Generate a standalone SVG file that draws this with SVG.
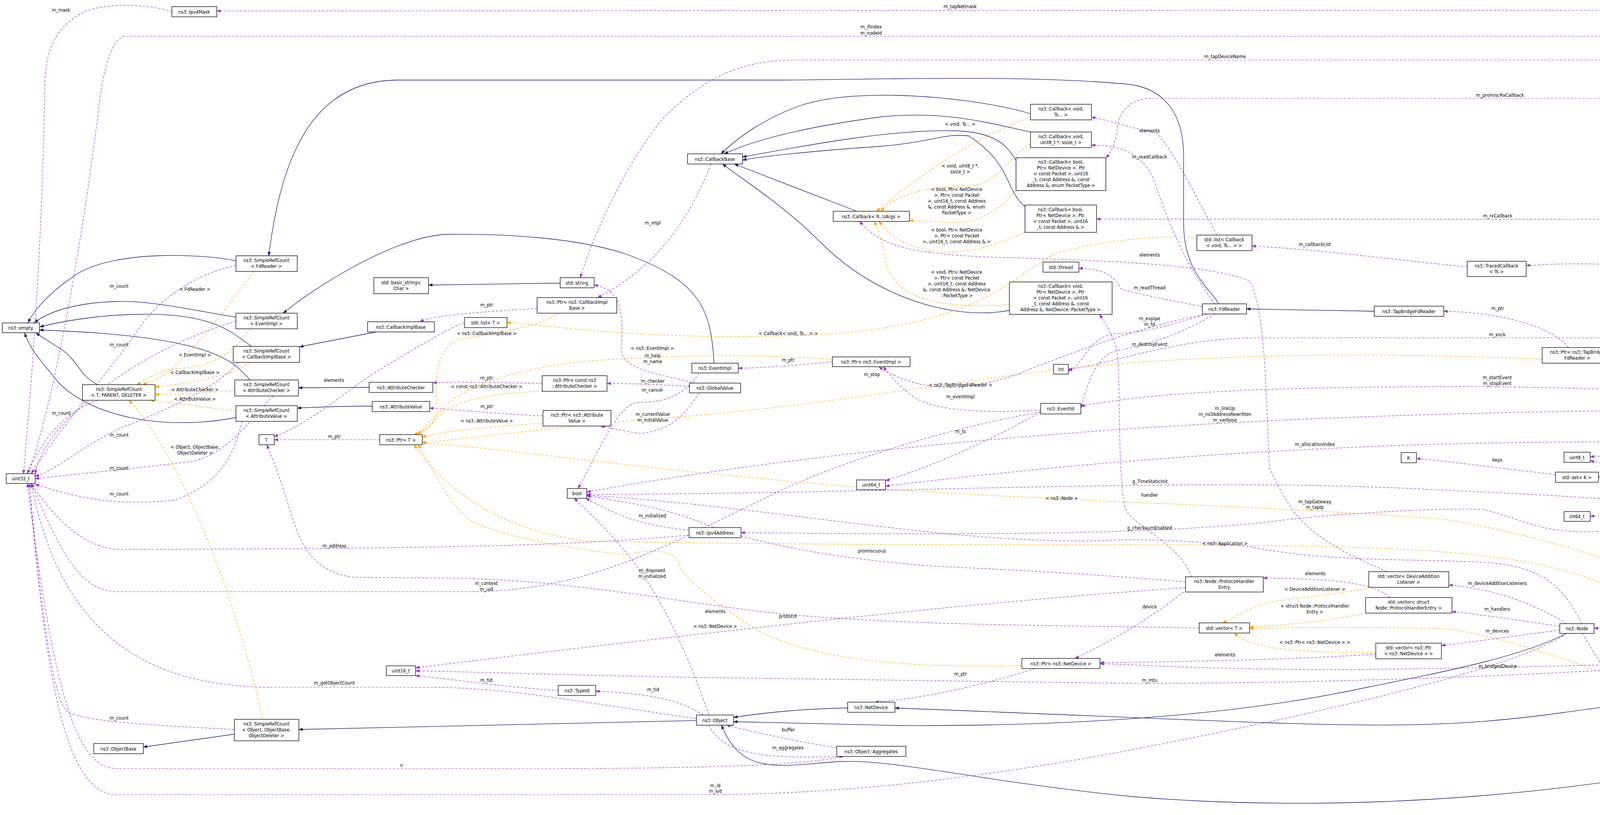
<svg xmlns="http://www.w3.org/2000/svg" width="5408" height="2087" viewBox="0 0 5408 2087">
<style>
.n rect{fill:#fff;stroke:#000;stroke-width:1.3}
.n text,.l{font-family:"DejaVu Sans Condensed","DejaVu Sans",sans-serif;font-size:12.5px;fill:#000;text-anchor:middle}
.i{fill:none;stroke:#191970;stroke-width:1.3;marker-end:url(#ai)}
.e{fill:none;stroke:#9a32cd;stroke-width:1.2;stroke-dasharray:6,4;marker-end:url(#ae)}
.o{fill:none;stroke:#ffa500;stroke-width:1.2;stroke-dasharray:6,4;marker-end:url(#ao)}
</style>
<defs>
<marker id="ai" markerWidth="11" markerHeight="8" refX="10" refY="4" orient="auto" markerUnits="userSpaceOnUse"><path d="M0,0 L11,4 L0,8 z" fill="#191970"/></marker>
<marker id="ae" markerWidth="11" markerHeight="8" refX="10" refY="4" orient="auto" markerUnits="userSpaceOnUse"><path d="M0,0 L11,4 L0,8 z" fill="#9a32cd"/></marker>
<marker id="ao" markerWidth="11" markerHeight="8" refX="10" refY="4" orient="auto" markerUnits="userSpaceOnUse"><path d="M0,0 L11,4 L0,8 z" fill="#ffa500"/></marker>
</defs>
<rect width="5408" height="2087" fill="#fff"/>
<g id="connectors">
<path class="i" d="M604,668 C520,650 300,640 200,700 C130,745 90,790 72,826"/>
<path class="i" d="M604,812 C520,800 400,770 300,772 C200,775 130,795 88,826"/>
<path class="i" d="M645,887 C600,860 560,800 350,805 C230,808 150,825 102,837"/>
<path class="i" d="M640,973 C600,930 560,860 101,845"/>
<path class="i" d="M604,1069 C450,1100 250,1080 150,980 C110,930 80,900 63,853"/>
<path class="i" d="M250,985 C200,960 200,920 150,890 L92,853"/>
<path class="i" d="M3120,778 C3100,740 3030,700 3030,570 L3030,400 C3030,260 2950,220 2880,215 C2600,190 2200,205 2000,205 L1020,205 C800,205 720,400 688,655"/>
<path class="i" d="M1828,930 C1820,800 1800,720 1600,650 C1480,610 1300,598 1140,600 C1000,610 800,740 725,802"/>
<path class="i" d="M963,850 L767,888"/>
<path class="i" d="M945,992 L764,993"/>
<path class="i" d="M953,1040 C880,1040 820,1042 761,1045"/>
<path class="i" d="M1434,725 L1097,730"/>
<path class="i" d="M2638,291 C2500,250 2200,220 2050,270 C1950,305 1880,360 1846,394"/>
<path class="i" d="M2638,338 C2550,320 2420,280 2250,300 C2100,320 1950,350 1854,394"/>
<path class="i" d="M2601,410 C2580,380 2560,340 2450,335 C2300,330 2100,365 1901,402"/>
<path class="i" d="M2624,530 C2570,480 2590,420 2480,348 C2420,340 2380,365 2250,375 C2100,385 1950,400 1901,410"/>
<path class="i" d="M2193,541 L1880,420"/>
<path class="i" d="M2584,795 C2450,820 2250,770 2100,620 C2000,520 1900,460 1850,420"/>
<path class="i" d="M3518,797 L3191,791"/>
<path class="i" d="M600,1880 L367,1913"/>
<path class="i" d="M1783,1845 L765,1868"/>
<path class="i" d="M2170,1813 C2050,1815 1950,1826 1878,1837"/>
<path class="i" d="M4749,1053 C4740,1300 4730,1600 4665,1705 C4580,1750 4400,1770 4000,1825 C3600,1880 3400,1855 2291,1813"/>
<path class="i" d="M4010,1622 C3900,1680 3700,1720 3500,1760 C3200,1825 2800,1860 2300,1858 L1878,1848"/>
<path class="i" d="M4740,1757 C4680,1830 4600,1900 4400,1950 C4100,2020 3500,2090 2900,2040 C2500,2000 2300,1945 2150,1950 C2000,1960 1900,1990 1847,1857"/>

<path class="e" d="M4752,1028 C4750,700 4720,120 4700,80 C4670,30 4620,20 4560,26 L555,28"/>
<path class="e" d="M440,30 C400,15 300,5 230,25 C150,55 120,120 115,200 C110,600 80,1000 60,1213"/>
<path class="e" d="M4755,1028 C4745,600 4710,250 4660,160 C4620,100 4580,93 4460,93 L320,93 C280,100 260,200 250,300 C200,700 120,1100 70,1213"/>
<path class="e" d="M4758,1028 C4740,600 4700,300 4650,200 C4610,160 4570,154 4450,154 L2030,154 C1900,154 1800,200 1700,300 C1600,420 1520,600 1485,711"/>
<path class="e" d="M4760,1028 C4740,700 4700,400 4620,290 C4590,260 4560,252 4450,252 L2950,252 C2880,252 2860,300 2860,340 C2850,380 2840,395 2831,404"/>
<path class="e" d="M4762,1028 C4740,800 4680,650 4600,590 C4570,570 4540,562 4450,562 L2807,561"/>
<path class="e" d="M4764,1028 C4700,900 4600,800 4400,720 C4250,680 4100,668 3907,680"/>
<path class="e" d="M4740,1028 C4720,950 4650,900 4500,888 C4350,875 4200,880 4128,896"/>
<path class="e" d="M4735,1028 C4700,950 4600,870 4450,865 L3200,865 C3000,870 2850,930 2735,946"/>
<path class="e" d="M4720,1028 C4500,1010 4200,995 3800,990 C3400,990 3000,995 2767,1040"/>
<path class="e" d="M4698,1045 C4300,1050 3800,1050 3200,1080 C2600,1110 2000,1170 1502,1260"/>
<path class="e" d="M4720,1053 C4680,1090 4600,1110 4521,1128"/>
<path class="e" d="M4374,1142 L4071,1170"/>
<path class="e" d="M4735,1053 C4680,1150 4600,1195 4450,1205 C4300,1210 4150,1200 4071,1180"/>
<path class="e" d="M4745,1053 C4720,1200 4650,1250 4477,1255"/>
<path class="e" d="M4748,1053 C4720,1250 4650,1320 4491,1315"/>
<path class="e" d="M4404,1305 C4320,1290 4330,1240 4280,1232 C4200,1225 4150,1222 4092,1222"/>
<path class="e" d="M4404,1308 L4071,1322"/>
<path class="e" d="M4404,1300 C4200,1280 4000,1270 3700,1255 C3300,1235 3000,1240 2500,1250 C2000,1262 1700,1266 1502,1266"/>
<path class="e" d="M3982,1215 C3800,1195 3700,1180 3626,1174"/>
<path class="e" d="M4750,1053 C4700,1250 4600,1390 4450,1395 C4300,1395 4200,1350 4100,1360 C3950,1370 3900,1330 3800,1305 C3700,1300 3500,1310 3300,1330 C3000,1370 2500,1370 1897,1364"/>
<path class="e" d="M1764,1370 C1500,1395 1200,1405 300,1407 C200,1400 120,1300 80,1238"/>
<path class="e" d="M1764,1358 C1650,1345 1600,1330 1500,1276"/>
<path class="e" d="M4755,1053 C4740,1300 4720,1560 4600,1625 C4560,1640 4520,1620 4490,1615"/>
<path class="e" d="M4720,1731 C4650,1700 4550,1640 4480,1615"/>
<path class="e" d="M4364,1605 L4081,1609"/>
<path class="e" d="M4730,1731 C4650,1500 4550,1400 4460,1319"/>
<path class="e" d="M4950,1782 C4900,1770 4860,1765 4821,1757"/>
<path class="e" d="M5231,1836 C5180,1820 5130,1810 5085,1807"/>
<path class="e" d="M4050,1622 C4100,1700 4130,1770 4200,1770 C4400,1780 4600,1830 5231,1851"/>
<path class="e" d="M4010,1597 C3950,1560 3850,1510 3709,1498"/>
<path class="e" d="M3993,1604 C3900,1590 3800,1575 3717,1566"/>
<path class="e" d="M3993,1614 C3900,1625 3800,1640 3690,1653"/>
<path class="e" d="M3522,1675 C3300,1690 3000,1695 2816,1697"/>
<path class="e" d="M3557,1530 C3530,1500 3450,1482 3234,1480"/>
<path class="e" d="M3030,1516 C2950,1580 2850,1640 2752,1686"/>
<path class="e" d="M3050,1477 C3020,1390 2900,1350 2880,1300 C2860,1200 2870,1000 2860,900 C2850,860 2830,830 2815,805"/>
<path class="e" d="M3035,1490 C2800,1470 2600,1460 2400,1450 C2100,1430 1900,1380 1800,1340 C1700,1300 1600,1285 1502,1270"/>
<path class="e" d="M3035,1505 C2500,1540 1800,1620 1064,1710"/>
<path class="e" d="M4010,1622 C3900,1700 3500,1800 3000,1900 C2600,1980 2200,2035 1800,2035 L300,2035 C180,2035 120,1800 75,1238"/>
<path class="e" d="M4745,1053 C4730,1300 4700,1600 4620,1660 C4500,1700 3900,1710 3400,1715 C3000,1712 2900,1700 2816,1700"/>
<path class="e" d="M4742,1053 C4720,1400 4650,1650 4500,1690 C4000,1730 3400,1750 2900,1750 L1800,1735 C1500,1730 1200,1720 1064,1718"/>
<path class="e" d="M2650,1712 C2500,1760 2350,1790 2240,1798"/>
<path class="e" d="M1800,1831 C1740,1790 1650,1775 1525,1770"/>
<path class="e" d="M1429,1768 C1300,1760 1200,1745 1064,1730"/>
<path class="e" d="M1815,1831 C1700,1500 1600,1400 1470,1276"/>
<path class="e" d="M2142,1915 C2050,1900 1950,1880 1860,1857"/>
<path class="e" d="M1815,1857 C1850,1930 1950,1945 2160,1937"/>
<path class="e" d="M1783,1840 C1500,1800 1300,1760 1100,1760 L700,1760 C350,1760 150,1600 80,1238"/>
<path class="e" d="M2160,1937 C2050,1960 1800,1968 1400,1968 L300,1968 C200,1968 140,1800 70,1238"/>
<path class="e" d="M600,1868 C450,1860 200,1850 170,1820 C130,1780 100,1500 75,1238"/>
<path class="e" d="M2664,1055 C2550,1120 2400,1190 2267,1231"/>
<path class="e" d="M2664,1050 C2500,1060 2380,1050 2330,1010 C2300,985 2275,960 2262,939"/>
<path class="e" d="M2664,1055 C2400,1100 2100,1200 1950,1280 C1700,1400 1500,1515 1200,1515 L300,1515 C200,1515 150,1400 80,1238"/>
<path class="e" d="M2131,926 C2050,935 1950,942 1890,943"/>
<path class="e" d="M1790,955 C1760,1000 1720,1030 1640,1030 C1590,1030 1560,1100 1480,1251"/>
<path class="e" d="M3090,804 C2950,830 2800,880 2600,960 C2450,1010 2350,1000 2250,940"/>
<path class="e" d="M3078,785 C3000,770 2900,750 2870,740 C2850,700 2820,690 2762,687"/>
<path class="e" d="M3090,804 C3000,830 2950,850 2850,855 C2780,870 2780,930 2735,950"/>
<path class="e" d="M3110,778 C3050,700 3000,600 2950,450 C2920,400 2880,370 2794,372"/>
<path class="e" d="M3110,804 C3000,870 2900,890 2850,900 C2800,920 2780,1000 2767,1045"/>
<path class="e" d="M3115,602 C3050,480 3000,380 2960,340 C2900,330 2850,310 2794,300"/>
<path class="e" d="M3756,683 C3600,670 3400,640 3205,630"/>
<path class="e" d="M4015,890 C3980,840 3850,800 3696,797"/>
<path class="e" d="M1375,790 C1200,800 1100,810 1075,824"/>
<path class="e" d="M1820,420 C1750,600 1650,700 1530,762"/>
<path class="e" d="M1388,982 C1300,980 1200,978 1108,980"/>
<path class="e" d="M1765,990 C1700,985 1620,982 1554,982"/>
<path class="e" d="M1780,981 C1700,960 1600,950 1590,900 C1600,780 1580,740 1521,730"/>
<path class="e" d="M1790,1006 C1760,1050 1730,1100 1640,1110 C1600,1105 1560,1095 1537,1091"/>
<path class="e" d="M1390,1065 C1250,1058 1150,1048 1100,1045"/>
<path class="e" d="M972,1126 L702,1126"/>
<path class="e" d="M1189,826 C1130,850 1050,900 950,960 C850,1030 780,1090 702,1118"/>
<path class="e" d="M3070,1608 C2600,1600 2200,1600 1900,1560 C1600,1520 1400,1480 1100,1480 L900,1478 C800,1460 770,1400 740,1300 C720,1230 700,1180 683,1139"/>
<path class="e" d="M3550,1464 C3500,1440 3450,1420 3420,1400 C3320,1340 3300,1300 3250,1200 C3240,1000 3240,800 3200,720 C3100,680 2900,670 2600,660 C2300,655 2250,620 2200,567"/>
<path class="e" d="M4374,1135 C4200,1130 3900,1130 3600,1140 C3200,1155 2800,1180 2267,1245"/>
<path class="e" d="M4050,1597 C4000,1500 3950,1450 3800,1440 C3600,1430 3400,1440 3200,1400 C3000,1380 2900,1380 2800,1385 C2400,1390 2000,1300 1502,1268"/>
<path class="e" d="M604,680 C500,700 400,770 350,850 C280,950 150,1100 80,1213"/>
<path class="e" d="M604,822 C450,870 300,950 200,1050 C140,1100 100,1160 90,1213"/>
<path class="e" d="M610,928 C550,1000 400,1060 300,1100 C200,1150 150,1200 90,1220"/>
<path class="e" d="M700,1014 C650,1060 600,1150 500,1180 C350,1200 200,1213 90,1226"/>
<path class="e" d="M620,1079 C600,1150 580,1230 450,1280 C300,1300 180,1270 90,1240"/>
<path class="e" d="M250,1025 C180,1050 120,1100 70,1213"/>

<path class="o" d="M650,695 C600,760 500,900 420,960 C400,975 380,980 365,985"/>
<path class="o" d="M640,842 C600,900 550,940 450,944 C400,950 380,970 350,985"/>
<path class="o" d="M640,928 C600,960 500,980 397,991"/>
<path class="o" d="M601,1000 C500,1008 450,1010 397,1010"/>
<path class="o" d="M604,1052 C500,1040 430,1030 385,1025"/>
<path class="o" d="M672,1842 C600,1500 450,1150 330,1025"/>
<path class="o" d="M1430,802 C1400,830 1300,848 1170,870 C1120,900 1110,960 1120,1050 C1110,1090 1090,1105 1060,1113"/>
<path class="o" d="M1400,1002 C1250,1005 1150,1030 1120,1070 C1100,1095 1080,1105 1060,1113"/>
<path class="o" d="M1390,1083 C1250,1095 1150,1100 1081,1119"/>
<path class="o" d="M2131,920 C1900,905 1700,910 1500,925 C1350,940 1200,980 1140,1040 C1100,1080 1080,1100 1070,1113"/>
<path class="o" d="M3948,920 C3500,900 3000,905 2600,960 C2300,1000 2000,1050 1700,1070 C1400,1095 1200,1125 1081,1133"/>
<path class="o" d="M4414,1590 C4300,1500 4100,1400 3700,1330 C3200,1290 2500,1280 2000,1230 C1600,1195 1300,1150 1081,1134"/>
<path class="o" d="M4912,1795 C4600,1760 4400,1700 4200,1550 C4000,1400 3600,1400 3000,1395 C2500,1395 1900,1395 1500,1385 C1300,1360 1150,1270 1060,1139"/>
<path class="o" d="M2616,1705 C2300,1710 2100,1690 1950,1620 C1850,1560 1750,1480 1740,1450 C1740,1420 1700,1400 1600,1420 C1400,1400 1250,1360 1200,1330 C1140,1280 1110,1200 1070,1139"/>
<path class="o" d="M3064,610 C2950,600 2800,620 2700,650 C2600,700 2500,855 2000,860 C1600,870 1400,830 1298,826"/>
<path class="o" d="M2638,300 C2500,350 2350,450 2244,541"/>
<path class="o" d="M2638,370 C2580,400 2560,470 2480,478 C2350,475 2280,510 2255,541"/>
<path class="o" d="M2601,488 C2560,540 2500,570 2450,570 C2380,568 2350,565 2328,565"/>
<path class="o" d="M2624,595 C2560,620 2500,650 2400,645 C2300,630 2270,590 2250,567"/>
<path class="o" d="M2584,780 C2450,790 2300,780 2270,680 C2260,620 2245,580 2238,567"/>
<path class="o" d="M3510,1504 C3400,1530 3250,1530 3200,1560 C3160,1580 3140,1590 3130,1595"/>
<path class="o" d="M3500,1570 C3400,1590 3300,1600 3199,1606"/>
<path class="o" d="M3522,1672 C3300,1670 3200,1660 3160,1621"/>
<path class="o" d="M5247,1872 C5150,1910 5000,1915 4600,1914 C4400,1900 4300,1840 4200,1760 C4000,1680 3800,1620 3700,1610 C3500,1605 3300,1606 3199,1610"/>

<text class="l" x="2458" y="21">m_tapNetmask</text>
<text class="l" x="156" y="30">m_mask</text>
<text class="l" x="2230" y="73">m_ifIndex</text>
<text class="l" x="2230" y="89">m_nodeId</text>
<text class="l" x="3136" y="149">m_tapDeviceName</text>
<text class="l" x="3840" y="248">m_promiscRxCallback</text>
<text class="l" x="3834" y="557">m_rxCallback</text>
<text class="l" x="4234" y="668">m_linkChangeCallbacks</text>
<text class="l" x="4450" y="881">m_fdReader</text>
<text class="l" x="3833" y="861">m_sock</text>
<text class="l" x="3833" y="971">m_startEvent</text>
<text class="l" x="3833" y="986">m_stopEvent</text>
<text class="l" x="3136" y="1050">m_linkUp</text>
<text class="l" x="3136" y="1065">m_ns3AddressRewritten</text>
<text class="l" x="3136" y="1080">m_verbose</text>
<text class="l" x="4625" y="1069">m_address</text>
<text class="l" x="4625" y="1085">m_tapMac</text>
<text class="l" x="4234" y="1146">m_address</text>
<text class="l" x="4450" y="1177">m_packetBuffer</text>
<text class="l" x="4627" y="1222">m_mode</text>
<text class="l" x="4627" y="1262">m_tStart</text>
<text class="l" x="4627" y="1277">m_tStop</text>
<text class="l" x="4236" y="1226">g_markingTimes</text>
<text class="l" x="4235" y="1306">m_data</text>
<text class="l" x="2944" y="1237">g_TimeStaticInit</text>
<text class="l" x="3833" y="1182">keys</text>
<text class="l" x="3366" y="1289">m_tapGateway</text>
<text class="l" x="3366" y="1303">m_tapIp</text>
<text class="l" x="856" y="1402">m_address</text>
<text class="l" x="1670" y="1325">m_initialized</text>
<text class="l" x="4627" y="1598">m_node</text>
<text class="l" x="4627" y="1660">m_node</text>
<text class="l" x="4235" y="1601">m_ptr</text>
<text class="l" x="4626" y="1445">m_startTime</text>
<text class="l" x="4626" y="1460">m_stopTime</text>
<text class="l" x="4869" y="1757">m_ptr</text>
<text class="l" x="5176" y="1814">elements</text>
<text class="l" x="4767" y="1825">m_applications</text>
<text class="l" x="3833" y="1498">m_deviceAdditionListeners</text>
<text class="l" x="3833" y="1564">m_handlers</text>
<text class="l" x="3833" y="1620">m_devices</text>
<text class="l" x="3136" y="1681">elements</text>
<text class="l" x="3367" y="1473">elements</text>
<text class="l" x="2943" y="1558">device</text>
<text class="l" x="2943" y="1272">handler</text>
<text class="l" x="2232" y="1415">promiscuous</text>
<text class="l" x="2017" y="1582">protocol</text>
<text class="l" x="1831" y="2016">m_id</text>
<text class="l" x="1831" y="2030">m_sid</text>
<text class="l" x="3834" y="1710">m_bridgedDevice</text>
<text class="l" x="2943" y="1746">m_mtu</text>
<text class="l" x="2459" y="1730">m_ptr</text>
<text class="l" x="1672" y="1770">m_tid</text>
<text class="l" x="1245" y="1746">m_tid</text>
<text class="l" x="1669" y="1465">m_disposed</text>
<text class="l" x="1669" y="1480">m_initialized</text>
<text class="l" x="2018" y="1873">buffer</text>
<text class="l" x="2017" y="1919">m_aggregates</text>
<text class="l" x="856" y="1753">m_getObjectCount</text>
<text class="l" x="1028" y="1964">n</text>
<text class="l" x="305" y="1843">m_count</text>
<text class="l" x="2459" y="1109">m_ts</text>
<text class="l" x="2459" y="1020">m_eventImpl</text>
<text class="l" x="1245" y="1498">m_context</text>
<text class="l" x="1245" y="1513">m_uid</text>
<text class="l" x="2018" y="926">m_ptr</text>
<text class="l" x="1670" y="1003">m_cancel</text>
<text class="l" x="2232" y="963">m_stop</text>
<text class="l" x="2943" y="741">m_readThread</text>
<text class="l" x="2943" y="820">m_evpipe</text>
<text class="l" x="2943" y="835">m_fd</text>
<text class="l" x="2943" y="406">m_readCallback</text>
<text class="l" x="2943" y="886">m_destroyEvent</text>
<text class="l" x="2943" y="339">elements</text>
<text class="l" x="2943" y="657">elements</text>
<text class="l" x="3366" y="630">m_callbackList</text>
<text class="l" x="3834" y="794">m_ptr</text>
<text class="l" x="1246" y="785">m_ptr</text>
<text class="l" x="1671" y="575">m_impl</text>
<text class="l" x="1246" y="972">m_ptr</text>
<text class="l" x="1671" y="980">m_checker</text>
<text class="l" x="1671" y="915">m_help</text>
<text class="l" x="1671" y="930">m_name</text>
<text class="l" x="1671" y="1065">m_currentValue</text>
<text class="l" x="1671" y="1080">m_initialValue</text>
<text class="l" x="1246" y="1045">m_ptr</text>
<text class="l" x="856" y="1122">m_ptr</text>
<text class="l" x="855" y="978">elements</text>
<text class="l" x="1831" y="1570">elements</text>
<text class="l" x="3366" y="1142">m_allocationIndex</text>
<text class="l" x="2943" y="1356">g_checksumEnabled</text>
<text class="l" x="305" y="737">m_count</text>
<text class="l" x="305" y="887">m_count</text>
<text class="l" x="157" y="1062">m_count</text>
<text class="l" x="305" y="1118">m_count</text>
<text class="l" x="305" y="1203">m_count</text>
<text class="l" x="305" y="1269">m_count</text>
<text class="l" x="499" y="745">&lt; FdReader &gt;</text>
<text class="l" x="499" y="913">&lt; EventImpl &gt;</text>
<text class="l" x="499" y="958">&lt; CallbackImplBase &gt;</text>
<text class="l" x="499" y="1002">&lt; AttributeChecker &gt;</text>
<text class="l" x="499" y="1026">&lt; AttributeValue &gt;</text>
<text class="l" x="499" y="1149">&lt; Object, ObjectBase,</text>
<text class="l" x="499" y="1164">ObjectDeleter &gt;</text>
<text class="l" x="1246" y="858">&lt; ns3::CallbackImplBase &gt;</text>
<text class="l" x="1246" y="994">&lt; const ns3::AttributeChecker &gt;</text>
<text class="l" x="1246" y="1082">&lt; ns3::AttributeValue &gt;</text>
<text class="l" x="1670" y="896">&lt; ns3::EventImpl &gt;</text>
<text class="l" x="2459" y="990">&lt; ns3::TapBridgeFdReader &gt;</text>
<text class="l" x="2718" y="1280">&lt; ns3::Node &gt;</text>
<text class="l" x="3136" y="1396">&lt; ns3::Application &gt;</text>
<text class="l" x="1831" y="1608">&lt; ns3::NetDevice &gt;</text>
<text class="l" x="2018" y="858">&lt; Callback&lt; void, Ts... &gt; &gt;</text>
<text class="l" x="2458" y="322">&lt; void, Ts... &gt;</text>
<text class="l" x="2458" y="429">&lt; void, uint8_t *,</text>
<text class="l" x="2458" y="444">ssize_t &gt;</text>
<text class="l" x="2449" y="489">&lt; bool, Ptr&lt; NetDevice</text>
<text class="l" x="2449" y="504">&gt;, Ptr&lt; const Packet</text>
<text class="l" x="2449" y="519">&gt;, uint16_t, const Address</text>
<text class="l" x="2449" y="534">&amp;, const Address &amp;, enum</text>
<text class="l" x="2449" y="549">PacketType &gt;</text>
<text class="l" x="2449" y="593">&lt; bool, Ptr&lt; NetDevice</text>
<text class="l" x="2449" y="608">&gt;, Ptr&lt; const Packet</text>
<text class="l" x="2449" y="623">&gt;, uint16_t, const Address &amp; &gt;</text>
<text class="l" x="2449" y="701">&lt; void, Ptr&lt; NetDevice</text>
<text class="l" x="2449" y="716">&gt;, Ptr&lt; const Packet</text>
<text class="l" x="2449" y="731">&gt;, uint16_t, const Address</text>
<text class="l" x="2449" y="746">&amp;, const Address &amp;, NetDevice</text>
<text class="l" x="2449" y="761">::PacketType &gt;</text>
<text class="l" x="3366" y="1513">&lt; DeviceAdditionListener &gt;</text>
<text class="l" x="3366" y="1556">&lt; struct Node::ProtocolHandler</text>
<text class="l" x="3366" y="1571">Entry &gt;</text>
<text class="l" x="3366" y="1649">&lt; ns3::Ptr&lt; ns3::NetDevice &gt; &gt;</text>
<text class="l" x="4449" y="1864">&lt; ns3::Ptr&lt; ns3::Application &gt; &gt;</text>
</g>

<g id="TapBridge" class="n"><rect x="4698" y="1028" width="118" height="25" style="fill:#bfbfbf"/><text x="4757" y="1045">ns3::TapBridge</text></g>
<g id="Ipv4Mask" class="n"><rect x="440" y="17" width="115" height="26"/><text x="497" y="35">ns3::Ipv4Mask</text></g>
<g id="SRC_Fd" class="n"><rect x="604" y="655" width="157" height="40"/><text x="682" y="671">ns3::SimpleRefCount</text><text x="682" y="686">&lt; FdReader &gt;</text></g>
<g id="basic_string" class="n"><rect x="957" y="711" width="140" height="41"/><text x="1027" y="728">std::basic_string&lt;</text><text x="1027" y="743">Char &gt;</text></g>
<g id="empty" class="n"><rect x="6" y="827" width="95" height="25"/><text x="53" y="844">ns3::empty</text></g>
<g id="SRC_Ev" class="n"><rect x="604" y="802" width="157" height="40"/><text x="682" y="818">ns3::SimpleRefCount</text><text x="682" y="833">&lt; EventImpl &gt;</text></g>
<g id="CallbackImplBase" class="n"><rect x="941" y="824" width="171" height="26"/><text x="1026" y="842">ns3::CallbackImplBase</text></g>
<g id="listT" class="n"><rect x="1189" y="813" width="109" height="26"/><text x="1243" y="831">std::list&lt; T &gt;</text></g>
<g id="SRC_CIB" class="n"><rect x="597" y="887" width="170" height="41"/><text x="682" y="903">ns3::SimpleRefCount</text><text x="682" y="918">&lt; CallbackImplBase &gt;</text></g>
<g id="SRC_AC" class="n"><rect x="601" y="973" width="163" height="41"/><text x="682" y="989">ns3::SimpleRefCount</text><text x="682" y="1004">&lt; AttributeChecker &gt;</text></g>
<g id="AttributeChecker" class="n"><rect x="945" y="979" width="163" height="26"/><text x="1026" y="997">ns3::AttributeChecker</text></g>
<g id="SRC_TPD" class="n"><rect x="211" y="985" width="186" height="40"/><text x="304" y="1001">ns3::SimpleRefCount</text><text x="304" y="1016">&lt; T, PARENT, DELETER &gt;</text></g>
<g id="PtrCIB" class="n"><rect x="1375" y="762" width="204" height="40"/><text x="1477" y="778">ns3::Ptr&lt; ns3::CallbackImpl</text><text x="1477" y="793">Base &gt;</text></g>
<g id="string" class="n"><rect x="1434" y="711" width="87" height="26"/><text x="1477" y="729">std::string</text></g>
<g id="CallbackBase" class="n"><rect x="1760" y="394" width="141" height="26"/><text x="1830" y="412">ns3::CallbackBase</text></g>
<g id="CbVoidTs" class="n"><rect x="2638" y="267" width="156" height="40"/><text x="2716" y="283">ns3::Callback&lt; void,</text><text x="2716" y="298">Ts... &gt;</text></g>
<g id="CbVoidU8" class="n"><rect x="2638" y="338" width="156" height="40"/><text x="2716" y="354">ns3::Callback&lt; void,</text><text x="2716" y="369">uint8_t *, ssize_t &gt;</text></g>
<g id="CbBoolPT" class="n"><rect x="2601" y="404" width="230" height="84"/><text x="2716" y="419">ns3::Callback&lt; bool,</text><text x="2716" y="434">Ptr&lt; NetDevice &gt;, Ptr</text><text x="2716" y="449">&lt; const Packet &gt;, uint16</text><text x="2716" y="464">_t, const Address &amp;, const</text><text x="2716" y="479">Address &amp;, enum PacketType &gt;</text></g>
<g id="CbBoolAddr" class="n"><rect x="2624" y="525" width="183" height="70"/><text x="2715" y="541">ns3::Callback&lt; bool,</text><text x="2715" y="556">Ptr&lt; NetDevice &gt;, Ptr</text><text x="2715" y="571">&lt; const Packet &gt;, uint16</text><text x="2715" y="586">_t, const Address &amp; &gt;</text></g>
<g id="CbRU" class="n"><rect x="2133" y="541" width="195" height="26"/><text x="2230" y="559">ns3::Callback&lt; R, UArgs &gt;</text></g>
<g id="thread" class="n"><rect x="2670" y="671" width="92" height="26"/><text x="2716" y="689">std::thread</text></g>
<g id="CbVoidPT" class="n"><rect x="2584" y="722" width="263" height="83"/><text x="2715" y="737">ns3::Callback&lt; void,</text><text x="2715" y="752">Ptr&lt; NetDevice &gt;, Ptr</text><text x="2715" y="767">&lt; const Packet &gt;, uint16</text><text x="2715" y="782">_t, const Address &amp;, const</text><text x="2715" y="797">Address &amp;, NetDevice::PacketType &gt;</text></g>
<g id="EventImpl" class="n"><rect x="1771" y="930" width="119" height="25"/><text x="1830" y="947">ns3::EventImpl</text></g>
<g id="PtrEv" class="n"><rect x="2131" y="914" width="199" height="25"/><text x="2230" y="931">ns3::Ptr&lt; ns3::EventImpl &gt;</text></g>
<g id="int" class="n"><rect x="2697" y="933" width="38" height="25"/><text x="2716" y="950">int</text></g>
<g id="PtrAC" class="n"><rect x="1388" y="962" width="166" height="40"/><text x="1471" y="978">ns3::Ptr&lt; const ns3</text><text x="1471" y="993">::AttributeChecker &gt;</text></g>
<g id="GlobalValue" class="n"><rect x="1765" y="981" width="131" height="25"/><text x="1830" y="998">ns3::GlobalValue</text></g>
<g id="listCb" class="n"><rect x="3064" y="602" width="141" height="40"/><text x="3134" y="618">std::list&lt; Callback</text><text x="3134" y="633">&lt; void, Ts... &gt; &gt;</text></g>
<g id="Traced" class="n"><rect x="3756" y="669" width="151" height="39"/><text x="3831" y="685">ns3::TracedCallback</text><text x="3831" y="700">&lt; Ts &gt;</text></g>
<g id="FdReader" class="n"><rect x="3078" y="778" width="113" height="26"/><text x="3134" y="796">ns3::FdReader</text></g>
<g id="TBFdReader" class="n"><rect x="3518" y="784" width="178" height="26"/><text x="3607" y="802">ns3::TapBridgeFdReader</text></g>
<g id="PtrTBFd" class="n"><rect x="3948" y="890" width="180" height="40"/><text x="4038" y="906">ns3::Ptr&lt; ns3::TapBridge</text><text x="4038" y="921">FdReader &gt;</text></g>
<g id="AttributeValue" class="n"><rect x="953" y="1028" width="147" height="26"/><text x="1026" y="1046">ns3::AttributeValue</text></g>
<g id="SRC_AV" class="n"><rect x="604" y="1039" width="157" height="40"/><text x="682" y="1055">ns3::SimpleRefCount</text><text x="682" y="1070">&lt; AttributeValue &gt;</text></g>
<g id="T" class="n"><rect x="663" y="1113" width="39" height="26"/><text x="682" y="1131">T</text></g>
<g id="PtrT" class="n"><rect x="972" y="1113" width="109" height="26"/><text x="1026" y="1131">ns3::Ptr&lt; T &gt;</text></g>
<g id="uint32" class="n"><rect x="16" y="1213" width="74" height="25"/><text x="53" y="1230">uint32_t</text></g>
<g id="PtrAV" class="n"><rect x="1390" y="1051" width="174" height="40"/><text x="1477" y="1067">ns3::Ptr&lt; ns3::Attribute</text><text x="1477" y="1082">Value &gt;</text></g>
<g id="uint16" class="n"><rect x="989" y="1705" width="75" height="25"/><text x="1026" y="1722">uint16_t</text></g>
<g id="SRC_Obj" class="n"><rect x="600" y="1842" width="165" height="55"/><text x="682" y="1858">ns3::SimpleRefCount</text><text x="682" y="1873">&lt; Object, ObjectBase,</text><text x="682" y="1888">ObjectDeleter &gt;</text></g>
<g id="ObjectBase" class="n"><rect x="240" y="1904" width="127" height="26"/><text x="303" y="1922">ns3::ObjectBase</text></g>
<g id="bool" class="n"><rect x="1452" y="1251" width="50" height="25"/><text x="1477" y="1268">bool</text></g>
<g id="uint64" class="n"><rect x="2193" y="1229" width="74" height="25"/><text x="2230" y="1246">uint64_t</text></g>
<g id="EventId" class="n"><rect x="2664" y="1033" width="103" height="27"/><text x="2715" y="1051">ns3::EventId</text></g>
<g id="Ipv4Address" class="n"><rect x="1764" y="1351" width="133" height="26"/><text x="1830" y="1369">ns3::Ipv4Address</text></g>
<g id="PtrND" class="n"><rect x="2616" y="1686" width="200" height="26"/><text x="2716" y="1704">ns3::Ptr&lt; ns3::NetDevice &gt;</text></g>
<g id="TypeId" class="n"><rect x="1429" y="1755" width="96" height="26"/><text x="1477" y="1773">ns3::TypeId</text></g>
<g id="NetDevice" class="n"><rect x="2170" y="1798" width="121" height="26"/><text x="2230" y="1816">ns3::NetDevice</text></g>
<g id="Object" class="n"><rect x="1783" y="1831" width="95" height="26"/><text x="1830" y="1849">ns3::Object</text></g>
<g id="Aggregates" class="n"><rect x="2142" y="1911" width="177" height="26"/><text x="2230" y="1929">ns3::Object::Aggregates</text></g>
<g id="K" class="n"><rect x="3587" y="1159" width="39" height="26"/><text x="3606" y="1177">K</text></g>
<g id="uint8" class="n"><rect x="4004" y="1158" width="67" height="26"/><text x="4037" y="1176">uint8_t</text></g>
<g id="setK" class="n"><rect x="3982" y="1209" width="110" height="26"/><text x="4037" y="1227">std::set&lt; K &gt;</text></g>
<g id="int64" class="n"><rect x="4004" y="1310" width="67" height="25"/><text x="4037" y="1327">int64_t</text></g>
<g id="PHE" class="n"><rect x="3035" y="1477" width="199" height="39"/><text x="3134" y="1493">ns3::Node::ProtocolHandler</text><text x="3134" y="1508">Entry</text></g>
<g id="vecDAL" class="n"><rect x="3504" y="1464" width="205" height="40"/><text x="3606" y="1480">std::vector&lt; DeviceAddition</text><text x="3606" y="1495">Listener &gt;</text></g>
<g id="vecPHE" class="n"><rect x="3496" y="1530" width="221" height="40"/><text x="3606" y="1546">std::vector&lt; struct</text><text x="3606" y="1561">Node::ProtocolHandlerEntry &gt;</text></g>
<g id="vecT" class="n"><rect x="3070" y="1595" width="129" height="26"/><text x="3134" y="1613">std::vector&lt; T &gt;</text></g>
<g id="Node" class="n"><rect x="3993" y="1597" width="88" height="25"/><text x="4037" y="1614">ns3::Node</text></g>
<g id="vecND" class="n"><rect x="3522" y="1647" width="168" height="40"/><text x="3606" y="1663">std::vector&lt; ns3::Ptr</text><text x="3606" y="1678">&lt; ns3::NetDevice &gt; &gt;</text></g>
<g id="Mac48" class="n"><rect x="4374" y="1129" width="147" height="25"/><text x="4447" y="1146">ns3::Mac48Address</text></g>
<g id="Mode" class="n"><rect x="4418" y="1242" width="59" height="25"/><text x="4447" y="1259">Mode</text></g>
<g id="Time" class="n"><rect x="4404" y="1292" width="87" height="27"/><text x="4447" y="1310">ns3::Time</text></g>
<g id="PtrNode" class="n"><rect x="4364" y="1590" width="166" height="25"/><text x="4447" y="1607">ns3::Ptr&lt; ns3::Node &gt;</text></g>
<g id="Application" class="n"><rect x="4694" y="1731" width="127" height="26"/><text x="4757" y="1749">ns3::Application</text></g>
<g id="PtrApp" class="n"><rect x="4912" y="1782" width="205" height="25"/><text x="5014" y="1799">ns3::Ptr&lt; ns3::Application &gt;</text></g>
<g id="vecApp" class="n"><rect x="5231" y="1832" width="170" height="40"/><text x="5316" y="1848">std::vector&lt; ns3::Ptr</text><text x="5316" y="1863">&lt; ns3::Application &gt; &gt;</text></g>
</svg>
